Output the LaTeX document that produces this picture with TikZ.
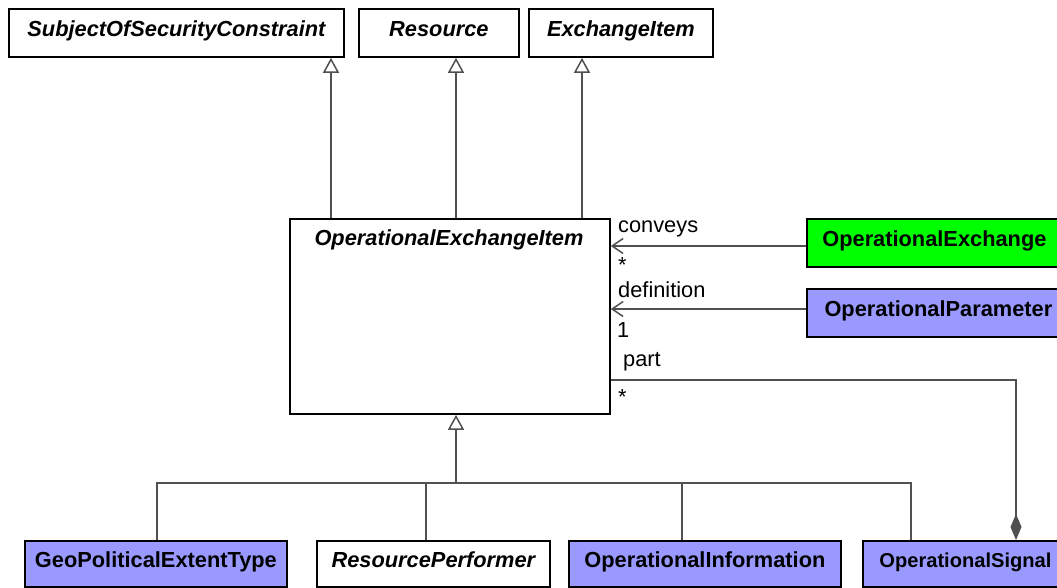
\documentclass[tikz,border=0pt]{standalone}
\usepackage{fontspec}
\setmainfont{Liberation Sans}
\usetikzlibrary{arrows.meta}
\definecolor{umlblue}{HTML}{9999FF}
\definecolor{umlgreen}{HTML}{00FF00}
\definecolor{conncol}{HTML}{505050}
\begin{document}
\begin{tikzpicture}[x=1pt, y=-1pt,
  box/.style={draw=black, line width=1.8pt, rectangle, inner sep=0pt,
    text height=15.5pt, text depth=9pt, anchor=north west,
    font=\fontsize{21.8}{26}\selectfont\bfseries},
  abox/.style={box, font=\fontsize{21.8}{26}\selectfont\bfseries\itshape},
  bluebox/.style={box, fill=umlblue},
  greenbox/.style={box, fill=umlgreen},
  gen/.style={draw=conncol, line width=1.5pt,
    -{Triangle[open, length=15pt, width=16pt, line width=1.5pt]}},
  assoc/.style={draw=conncol, line width=1.5pt,
    -{Straight Barb[length=11pt, width=15pt, line width=1.5pt]}},
  compo/.style={draw=conncol, line width=1.5pt,
    -{Diamond[length=26pt, width=11pt, line width=1pt, fill=conncol]}},
  plain/.style={draw=conncol, line width=1.5pt},
  lbl/.style={font=\fontsize{21.8}{26}\selectfont, inner sep=0pt, anchor=base west}
]
\fill[white] (0,0) rectangle (1057,587);
\useasboundingbox (0,0) rectangle (1057,587);

% top abstract classes
\node[abox, minimum width=335pt, minimum height=48pt] (soc) at (8,8) {SubjectOfSecurityConstraint};
\node[abox, minimum width=160pt, minimum height=48pt] (res) at (358,8) {Resource};
\node[abox, minimum width=184pt, minimum height=48pt] (exi) at (528,8) {ExchangeItem};

% central class
\node[box, minimum width=320pt, minimum height=195pt] (oei) at (289,218) {};
\node[font=\fontsize{21.8}{26}\selectfont\bfseries\itshape, inner sep=0pt, anchor=base] (oeit) at (449,245) {OperationalExchangeItem};

% right classes
\node[greenbox, minimum width=255pt, minimum height=48pt] (oex) at (806,218) {OperationalExchange};
\node[bluebox, minimum width=263pt, minimum height=48pt] (opa) at (806,288) {OperationalParameter};

% bottom classes
\node[bluebox, minimum width=262pt, minimum height=46pt] (geo) at (24,540) {GeoPoliticalExtentType};
\node[abox, minimum width=233pt, minimum height=46pt] (rpf) at (316,540) {ResourcePerformer};
\node[bluebox, minimum width=272pt, minimum height=46pt] (oin) at (568,540) {OperationalInformation};
\node[bluebox, minimum width=205pt, minimum height=46pt, font=\fontsize{20.1}{24}\selectfont\bfseries] (sig) at (862,540) {OperationalSignal};

% generalizations to top
\draw[gen] (331,0 |- oei.north) -- (331,0 |- soc.south);
\draw[gen] (456,0 |- oei.north) -- (456,0 |- res.south);
\draw[gen] (582,0 |- oei.north) -- (582,0 |- exi.south);

% generalizations from bottom
\coordinate (bar) at (456,483);
\draw[gen] (bar) -- (bar |- oei.south);
\draw[plain] (157,0 |- geo.north) |- (911,483) -- (911,0 |- sig.north);
\draw[plain] (426,0 |- rpf.north) -- (426,483);
\draw[plain] (682,0 |- oin.north) -- (682,483);

% associations
\draw[assoc] (oex.west |- 0,246) -- (oei.east |- 0,246);
\draw[assoc] (opa.west |- 0,309) -- (oei.east |- 0,309);
\draw[compo] (oei.east |- 0,380) -| (1016,0 |- sig.north);

% association labels
\node[lbl] (l1) at (618,232) {conveys};
\node[lbl] (l2) at (618,272) {*};
\node[lbl] (l3) at (618,297) {definition};
\node[lbl] (l4) at (617,337) {1};
\node[lbl] (l5) at (623,366) {part};
\node[lbl] (l6) at (618,404) {*};
\end{tikzpicture}
\end{document}
